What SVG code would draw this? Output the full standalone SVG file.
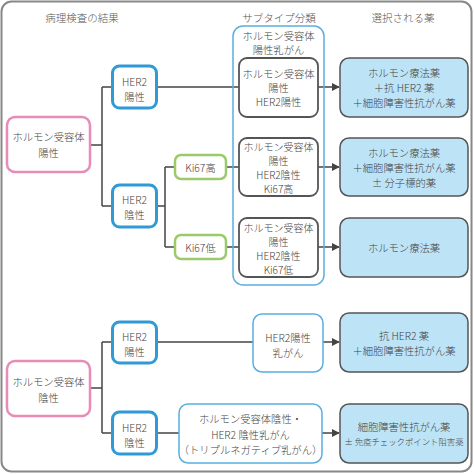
<svg xmlns="http://www.w3.org/2000/svg" width="474" height="474" viewBox="0 0 474 474">
<defs>
<marker id="arr" viewBox="0 0 10 10" refX="9" refY="5" markerWidth="8" markerHeight="8" markerUnits="userSpaceOnUse" orient="auto"><path d="M0,0 L10,5 L0,10 z" fill="#444"/></marker>
<style>
text{font-family:"Noto Sans CJK JP","Noto Sans",sans-serif;font-size:10.3px;font-weight:300;fill:#444;text-anchor:middle;dominant-baseline:central}
.ttl{fill:#555;font-size:10.5px}
.sm{font-size:10px}
.xs{font-size:8.4px}
.pink{fill:#fff;stroke:#e98bb8;stroke-width:2.5}
.blue{fill:#fff;stroke:#2f9ad6;stroke-width:3}
.green{fill:#fff;stroke:#9bca6a;stroke-width:2.5}
.sub{fill:#fff;stroke:#555;stroke-width:1.8}
.grp{fill:none;stroke:#5aaee0;stroke-width:1.5}
.lbox{fill:#fff;stroke:#5aaee0;stroke-width:1.5}
.drug{fill:#bde3f7;stroke:#555;stroke-width:1.5}
.ln{fill:none;stroke:#444;stroke-width:1.5}
.ar{fill:none;stroke:#444;stroke-width:1.5;marker-end:url(#arr)}
</style>
</defs>
<rect x="1.5" y="1.5" width="470" height="470" rx="10" fill="#fff" stroke="#888" stroke-width="2"/>
<text class="ttl" x="82" y="17">病理検査の結果</text>
<text class="ttl" x="279" y="17">サブタイプ分類</text>
<text class="ttl" x="403" y="17">選択される薬</text>

<g id="connectors">
<path class="ln" d="M90,145 H102 M102,87 V206 M102,87 H112 M102,206 H112"/>
<path class="ln" d="M157,87 H239"/>
<path class="ln" d="M157,206 H165 M165,167 V247 M165,167 H175 M165,247 H175"/>
<path class="ln" d="M226,167 H239 M226,247 H239"/>
<path class="ar" d="M318,87 H339"/>
<path class="ar" d="M318,167 H339"/>
<path class="ar" d="M318,247 H339"/>
<path class="ln" d="M90,388 H102 M102,342 V433 M102,342 H112 M102,433 H112"/>
<path class="ln" d="M157,342 H253"/>
<path class="ln" d="M157,433 H179"/>
<path class="ar" d="M323,342 H339"/>
<path class="ar" d="M322,433 H339"/>
</g>

<g id="group-hr-pos">
<rect class="grp" x="233" y="26" width="91" height="259" rx="10"/>
<text x="278.5" y="35">ホルモン受容体</text>
<text x="278.5" y="49">陽性乳がん</text>
</g>

<g id="hr-pos"><rect class="pink" x="7" y="117" width="83" height="55" rx="8"/>
<text x="48.5" y="136">ホルモン受容体</text><text x="48.5" y="152">陽性</text></g>

<g id="her2-pos-1"><rect class="blue" x="112.5" y="66" width="44" height="42" rx="7"/>
<text x="134.5" y="81">HER2</text><text x="134.5" y="96">陽性</text></g>

<g id="her2-neg-1"><rect class="blue" x="112.5" y="185" width="44" height="42" rx="7"/>
<text x="134.5" y="199">HER2</text><text x="134.5" y="214">陰性</text></g>

<g id="ki67-high"><rect class="green" x="175" y="155" width="51" height="24" rx="6"/>
<text x="200.5" y="167">Ki67高</text></g>

<g id="ki67-low"><rect class="green" x="175" y="235" width="51" height="24" rx="6"/>
<text x="200.5" y="247">Ki67低</text></g>

<g id="sub1"><rect class="sub" x="239" y="58" width="79" height="59" rx="8"/>
<text x="278.5" y="73">ホルモン受容体</text><text x="278.5" y="87">陽性</text><text x="278.5" y="101">HER2陽性</text></g>

<g id="sub2"><rect class="sub" x="239" y="138" width="79" height="58" rx="8"/>
<text class="sm" x="278.5" y="146">ホルモン受容体</text><text class="sm" x="278.5" y="160">陽性</text><text class="sm" x="278.5" y="174">HER2陰性</text><text class="sm" x="278.5" y="188">Ki67高</text></g>

<g id="sub3"><rect class="sub" x="239" y="218" width="79" height="59" rx="8"/>
<text class="sm" x="278.5" y="227">ホルモン受容体</text><text class="sm" x="278.5" y="241">陽性</text><text class="sm" x="278.5" y="255">HER2陰性</text><text class="sm" x="278.5" y="269">Ki67低</text></g>

<g id="drug1"><rect class="drug" x="340" y="58" width="128" height="59" rx="9"/>
<text x="404" y="72">ホルモン療法薬</text><text x="404" y="87">＋抗 HER2 薬</text><text x="404" y="102">＋細胞障害性抗がん薬</text></g>

<g id="drug2"><rect class="drug" x="340" y="138" width="128" height="58" rx="9"/>
<text x="404" y="152">ホルモン療法薬</text><text x="404" y="167">＋細胞障害性抗がん薬</text><text x="404" y="182">± 分子標的薬</text></g>

<g id="drug3"><rect class="drug" x="340" y="218" width="128" height="59" rx="9"/>
<text x="404" y="247">ホルモン療法薬</text></g>

<g id="hr-neg"><rect class="pink" x="7" y="361" width="83" height="55" rx="8"/>
<text x="48.5" y="381">ホルモン受容体</text><text x="48.5" y="397">陰性</text></g>

<g id="her2-pos-2"><rect class="blue" x="112.5" y="322" width="44" height="41" rx="7"/>
<text x="134.5" y="336">HER2</text><text x="134.5" y="351">陽性</text></g>

<g id="her2-neg-2"><rect class="blue" x="112.5" y="412" width="44" height="42" rx="7"/>
<text x="134.5" y="427">HER2</text><text x="134.5" y="442">陰性</text></g>

<g id="her2-bc"><rect class="lbox" x="253" y="314" width="70" height="58" rx="9"/>
<text x="288" y="337">HER2陽性</text><text x="288" y="352">乳がん</text></g>

<g id="tnbc"><rect class="lbox" x="179" y="404" width="143" height="59" rx="9"/>
<text x="250.5" y="418">ホルモン受容体陰性・</text><text x="250.5" y="434">HER2 陰性乳がん</text><text x="250.5" y="449">（トリプルネガティブ乳がん）</text></g>

<g id="drug4"><rect class="drug" x="340" y="313" width="128" height="59" rx="9"/>
<text x="404" y="335">抗 HER2 薬</text><text x="404" y="350">＋細胞障害性抗がん薬</text></g>

<g id="drug5"><rect class="drug" x="340" y="404" width="128" height="59" rx="9"/>
<text x="404" y="426">細胞障害性抗がん薬</text><text class="xs" x="404" y="441">± 免疫チェックポイント阻害薬</text></g>
</svg>
